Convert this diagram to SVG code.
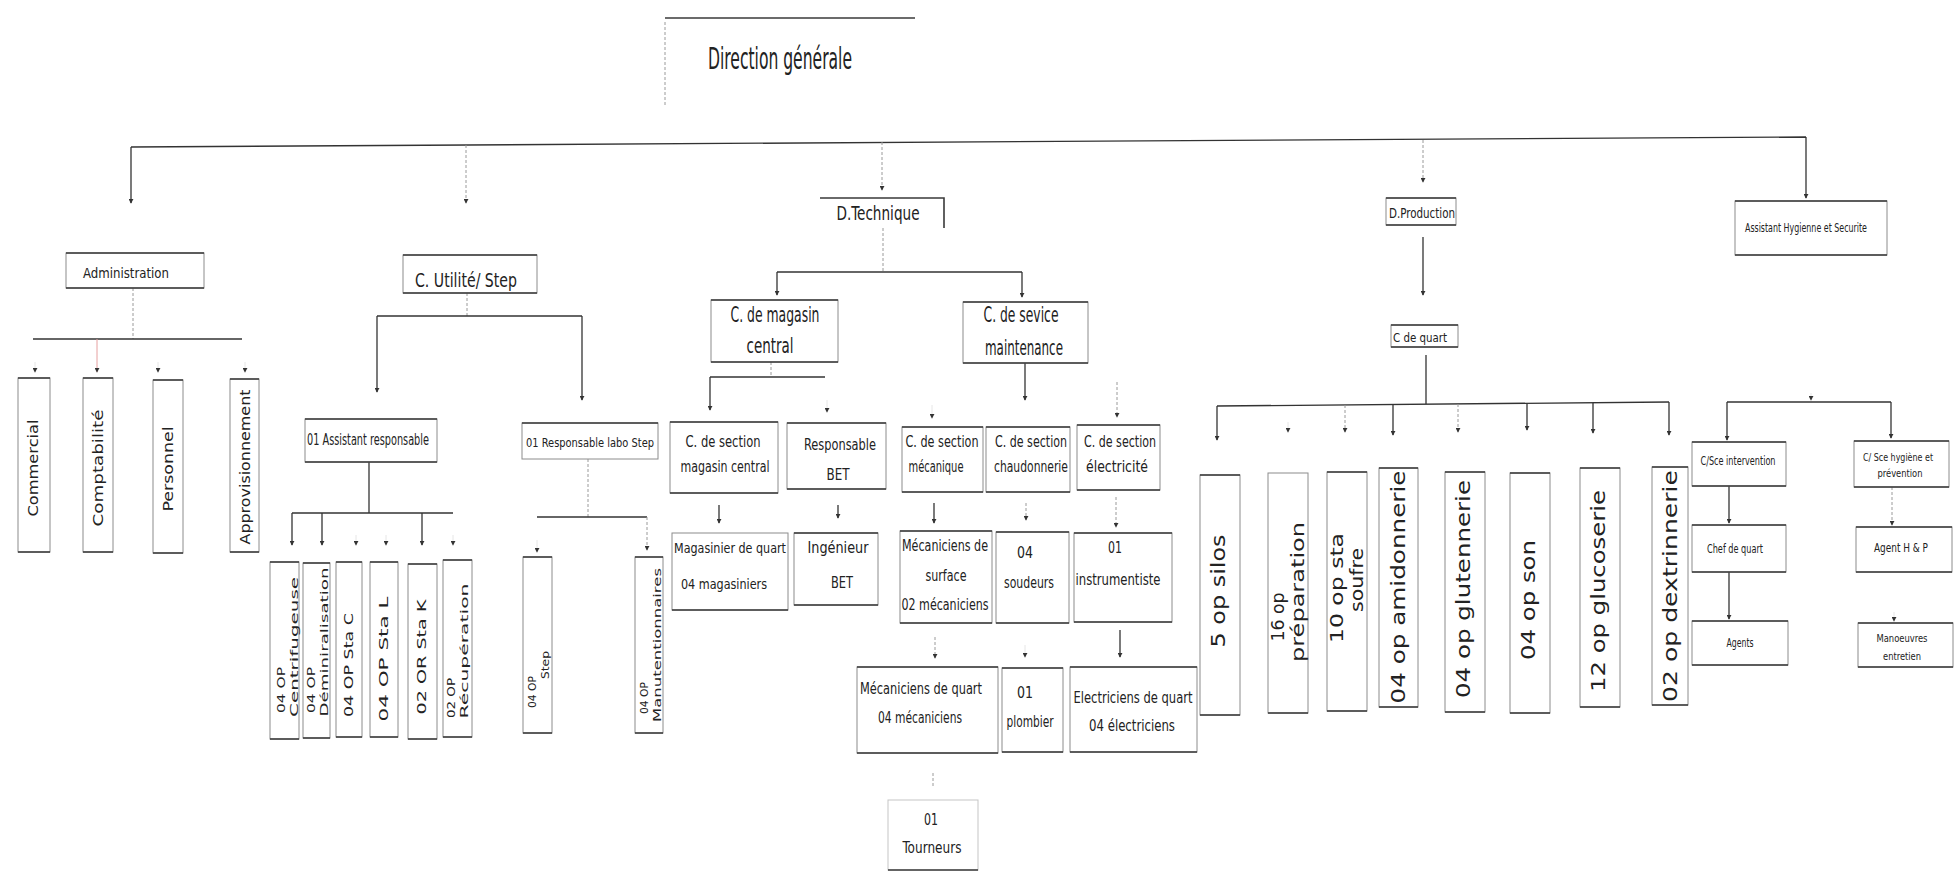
<svg xmlns="http://www.w3.org/2000/svg" width="1957" height="879" viewBox="0 0 1957 879">
<style>
.bx{fill:none;stroke:#8c8c8c;stroke-width:1}
.tb{fill:none;stroke:#3a3a3a;stroke-width:1.6}
.ln{fill:none;stroke:#333;stroke-width:1.3}
.fa{fill:none;stroke:#9a9a9a;stroke-width:1;stroke-dasharray:3 2}
.gh{fill:none;stroke:#e6e6e6;stroke-width:1}
.h{font-family:"DejaVu Sans Condensed","DejaVu Sans",sans-serif;fill:#222;text-anchor:middle}
.v{font-family:"DejaVu Sans",sans-serif;fill:#222;text-anchor:middle;dominant-baseline:central}
</style>
<defs>
<marker id="a" viewBox="0 0 6 6" refX="5" refY="3" markerWidth="5" markerHeight="5" markerUnits="userSpaceOnUse" orient="auto">
<path d="M0 0L6 3L0 6Z" fill="#333"/>
</marker>
</defs>
<rect width="1957" height="879" fill="#fff"/>

<g id="connectors">
<path class="tb" d="M665 18H915"/>
<path class="fa" d="M665 22V105"/>
<path class="ln" d="M131 147L1806 137"/>
<path class="ln" d="M131 147V203" marker-end="url(#a)"/>
<path class="fa" d="M466 145V203" marker-end="url(#a)"/>
<path class="fa" d="M882 142V190" marker-end="url(#a)"/>
<path class="fa" d="M1423 140V182" marker-end="url(#a)"/>
<path class="ln" d="M1806 137V198" marker-end="url(#a)"/>
<path class="fa" d="M133 288V339"/>
<path class="ln" d="M33 339H242"/>
<path d="M97 339V372" stroke="#e6a0a0" stroke-width="1" fill="none" marker-end="url(#a)"/>
<path class="gh" d="M35 362V372" marker-end="url(#a)"/>
<path class="gh" d="M158 362V372" marker-end="url(#a)"/>
<path class="gh" d="M245 362V372" marker-end="url(#a)"/>
<path class="fa" d="M467 293V316"/>
<path class="ln" d="M377 316H582"/>
<path class="ln" d="M377 316V392" marker-end="url(#a)"/>
<path class="ln" d="M582 316V400" marker-end="url(#a)"/>
<path class="ln" d="M369 462V513"/>
<path class="ln" d="M292 513H453"/>
<path class="ln" d="M292 513V545" marker-end="url(#a)"/>
<path class="ln" d="M322 513V545" marker-end="url(#a)"/>
<path class="gh" d="M356 535V545" marker-end="url(#a)"/>
<path class="gh" d="M386 535V545" marker-end="url(#a)"/>
<path class="ln" d="M422 513V545" marker-end="url(#a)"/>
<path class="gh" d="M453 535V545" marker-end="url(#a)"/>
<path class="fa" d="M588 459V517"/>
<path class="ln" d="M537 517H647"/>
<path class="gh" d="M537 540V552" marker-end="url(#a)"/>
<path class="fa" d="M647 517V550" marker-end="url(#a)"/>
<path class="fa" d="M883 228V272"/>
<path class="ln" d="M777 272H1022"/>
<path class="ln" d="M777 272V295" marker-end="url(#a)"/>
<path class="ln" d="M1022 272V297" marker-end="url(#a)"/>
<path class="fa" d="M771 362V377"/>
<path class="ln" d="M710 377H825"/>
<path class="ln" d="M710 377V410" marker-end="url(#a)"/>
<path class="gh" d="M827 400V412" marker-end="url(#a)"/>
<path class="ln" d="M1025 363V400" marker-end="url(#a)"/>
<path class="gh" d="M932 405V418" marker-end="url(#a)"/>
<path class="fa" d="M1117 382V417" marker-end="url(#a)"/>
<path class="ln" d="M719 505V523" marker-end="url(#a)"/>
<path class="ln" d="M838 505V518" marker-end="url(#a)"/>
<path class="ln" d="M934 503V523" marker-end="url(#a)"/>
<path class="fa" d="M1026 503V520" marker-end="url(#a)"/>
<path class="fa" d="M1116 497V527" marker-end="url(#a)"/>
<path class="fa" d="M935 637V658" marker-end="url(#a)"/>
<path class="gh" d="M1025 645V657" marker-end="url(#a)"/>
<path class="ln" d="M1120 630V657" marker-end="url(#a)"/>
<path class="fa" d="M933 773V787"/>
<path class="ln" d="M1423 237V295" marker-end="url(#a)"/>
<path class="ln" d="M1426 355V404"/>
<path class="ln" d="M1217 406L1669 402"/>
<path class="ln" d="M1217 406V440" marker-end="url(#a)"/>
<path class="gh" d="M1288 422V432" marker-end="url(#a)"/>
<path class="fa" d="M1345 405V432" marker-end="url(#a)"/>
<path class="ln" d="M1393 405V435" marker-end="url(#a)"/>
<path class="fa" d="M1458 404V432" marker-end="url(#a)"/>
<path class="ln" d="M1527 404V430" marker-end="url(#a)"/>
<path class="ln" d="M1593 403V433" marker-end="url(#a)"/>
<path class="ln" d="M1669 402V435" marker-end="url(#a)"/>
<path class="gh" d="M1811 393V400" marker-end="url(#a)"/>
<path class="ln" d="M1727 402H1891"/>
<path class="ln" d="M1727 402V440" marker-end="url(#a)"/>
<path class="ln" d="M1891 402V438" marker-end="url(#a)"/>
<path class="ln" d="M1729 486V523" marker-end="url(#a)"/>
<path class="ln" d="M1729 572V619" marker-end="url(#a)"/>
<path class="fa" d="M1892 487V525" marker-end="url(#a)"/>
<path class="gh" d="M1894 612V621" marker-end="url(#a)"/>
</g>

<g id="n-direction"><text class="h" x="780" y="69" font-size="31" textLength="144" lengthAdjust="spacingAndGlyphs">Direction générale</text></g>

<g id="n-administration"><rect class="bx" x="66" y="253" width="138" height="35"/><path class="tb" d="M66 253H204M66 288H204"/><text class="h" x="126" y="278" font-size="14" textLength="86" lengthAdjust="spacingAndGlyphs">Administration</text></g>
<g id="n-utilite"><rect class="bx" x="403" y="255" width="134" height="38"/><path class="tb" d="M403 255H537M403 293H537"/><text class="h" x="466" y="287" font-size="20" textLength="102" lengthAdjust="spacingAndGlyphs">C. Utilité/ Step</text></g>
<g id="n-dtechnique"><path class="tb" d="M820 198H944V228"/><text class="h" x="878" y="220" font-size="20" textLength="83" lengthAdjust="spacingAndGlyphs">D.Technique</text></g>
<g id="n-dproduction"><rect class="bx" x="1386" y="198" width="70" height="27"/><path class="tb" d="M1386 198H1456M1386 225H1456"/><text class="h" x="1422" y="218" font-size="14" textLength="66" lengthAdjust="spacingAndGlyphs">D.Production</text></g>
<g id="n-assistant-hse"><rect class="bx" x="1735" y="201" width="152" height="54"/><path class="tb" d="M1735 201H1887M1735 255H1887"/><text class="h" x="1806" y="232" font-size="12" textLength="122" lengthAdjust="spacingAndGlyphs">Assistant Hygienne et Securite</text></g>

<g id="n-commercial"><rect class="bx" x="18" y="378" width="32" height="174"/><path class="tb" d="M18 378H50M18 552H50"/><text class="v" transform="translate(33 468) rotate(-90)" font-size="14" textLength="97" lengthAdjust="spacingAndGlyphs">Commercial</text></g>
<g id="n-comptabilite"><rect class="bx" x="83" y="378" width="30" height="174"/><path class="tb" d="M83 378H113M83 552H113"/><text class="v" transform="translate(98 468) rotate(-90)" font-size="14" textLength="117" lengthAdjust="spacingAndGlyphs">Comptabilité</text></g>
<g id="n-personnel"><rect class="bx" x="153" y="380" width="30" height="173"/><path class="tb" d="M153 380H183M153 553H183"/><text class="v" transform="translate(168 469) rotate(-90)" font-size="14" textLength="85" lengthAdjust="spacingAndGlyphs">Personnel</text></g>
<g id="n-approvisionnement"><rect class="bx" x="230" y="379" width="29" height="173"/><path class="tb" d="M230 379H259M230 552H259"/><text class="v" transform="translate(245 467) rotate(-90)" font-size="14" textLength="155" lengthAdjust="spacingAndGlyphs">Approvisionnement</text></g>

<g id="n-assistant-resp"><rect class="bx" x="305" y="419" width="132" height="43"/><path class="tb" d="M305 419H437M305 462H437"/><text class="h" x="368" y="445" font-size="15" textLength="122" lengthAdjust="spacingAndGlyphs">01 Assistant responsable</text></g>
<g id="n-resp-labo"><rect class="bx" x="522" y="423" width="136" height="36"/><path class="tb" d="M522 423H658"/><text class="h" x="590" y="447" font-size="13" textLength="128" lengthAdjust="spacingAndGlyphs">01 Responsable labo Step</text></g>

<g id="n-centrifugeuse"><rect class="bx" x="270" y="562" width="29" height="177"/><path class="tb" d="M270 562H299M270 739H299"/><text class="v" transform="translate(281 690) rotate(-90)" font-size="10.5" textLength="46" lengthAdjust="spacingAndGlyphs">04 OP</text><text class="v" transform="translate(294 647) rotate(-90)" font-size="10.5" textLength="140" lengthAdjust="spacingAndGlyphs">Centrifugeuse</text></g>
<g id="n-demineralisation"><rect class="bx" x="303" y="563" width="27" height="175"/><path class="tb" d="M303 563H330M303 738H330"/><text class="v" transform="translate(311 690) rotate(-90)" font-size="10.5" textLength="46" lengthAdjust="spacingAndGlyphs">04 OP</text><text class="v" transform="translate(324 642) rotate(-90)" font-size="10.5" textLength="149" lengthAdjust="spacingAndGlyphs">Déminiralisation</text></g>
<g id="n-stac"><rect class="bx" x="336" y="562" width="26" height="175"/><path class="tb" d="M336 562H362M336 737H362"/><text class="v" transform="translate(349 665) rotate(-90)" font-size="12" textLength="104" lengthAdjust="spacingAndGlyphs">04 OP Sta C</text></g>
<g id="n-stal"><rect class="bx" x="370" y="562" width="28" height="175"/><path class="tb" d="M370 562H398M370 737H398"/><text class="v" transform="translate(384 659) rotate(-90)" font-size="12" textLength="125" lengthAdjust="spacingAndGlyphs">04 OP Sta L</text></g>
<g id="n-stak"><rect class="bx" x="408" y="564" width="29" height="175"/><path class="tb" d="M408 564H437M408 739H437"/><text class="v" transform="translate(422 657) rotate(-90)" font-size="12" textLength="115" lengthAdjust="spacingAndGlyphs">02 OR Sta K</text></g>
<g id="n-recuperation"><rect class="bx" x="443" y="560" width="29" height="177"/><path class="tb" d="M443 560H472M443 737H472"/><text class="v" transform="translate(451 698) rotate(-90)" font-size="10.5" textLength="40" lengthAdjust="spacingAndGlyphs">02 OP</text><text class="v" transform="translate(464 651) rotate(-90)" font-size="10.5" textLength="135" lengthAdjust="spacingAndGlyphs">Récupération</text></g>
<g id="n-opstep"><rect class="bx" x="523" y="557" width="29" height="176"/><path class="tb" d="M523 557H552M523 733H552"/><text class="v" transform="translate(532 692) rotate(-90)" font-size="10.5" textLength="32" lengthAdjust="spacingAndGlyphs">04 OP</text><text class="v" transform="translate(545 665) rotate(-90)" font-size="10.5" textLength="28" lengthAdjust="spacingAndGlyphs">Step</text></g>
<g id="n-manutentionnaires"><rect class="bx" x="635" y="557" width="28" height="176"/><path class="tb" d="M635 557H663M635 733H663"/><text class="v" transform="translate(644 698) rotate(-90)" font-size="10.5" textLength="32" lengthAdjust="spacingAndGlyphs">04 OP</text><text class="v" transform="translate(657 645) rotate(-90)" font-size="10.5" textLength="154" lengthAdjust="spacingAndGlyphs">Manutentionnaires</text></g>

<g id="n-magasin-central"><rect class="bx" x="711" y="300" width="127" height="62"/><path class="tb" d="M711 300H838M711 362H838"/><text class="h" x="775" y="322" font-size="21" textLength="89" lengthAdjust="spacingAndGlyphs">C. de magasin</text><text class="h" x="770" y="353" font-size="21" textLength="47" lengthAdjust="spacingAndGlyphs">central</text></g>
<g id="n-maintenance"><rect class="bx" x="963" y="302" width="125" height="61"/><path class="tb" d="M963 302H1088M963 363H1088"/><text class="h" x="1021" y="322" font-size="21" textLength="75" lengthAdjust="spacingAndGlyphs">C. de sevice</text><text class="h" x="1024" y="355" font-size="21" textLength="78" lengthAdjust="spacingAndGlyphs">maintenance</text></g>

<g id="n-sec-magasin"><rect class="bx" x="670" y="422" width="108" height="71"/><path class="tb" d="M670 422H778M670 493H778"/><text class="h" x="723" y="447" font-size="15" textLength="75" lengthAdjust="spacingAndGlyphs">C. de section</text><text class="h" x="725" y="472" font-size="15" textLength="89" lengthAdjust="spacingAndGlyphs">magasin central</text></g>
<g id="n-resp-bet"><rect class="bx" x="787" y="423" width="99" height="66"/><path class="tb" d="M787 423H886M787 489H886"/><text class="h" x="840" y="450" font-size="15" textLength="72" lengthAdjust="spacingAndGlyphs">Responsable</text><text class="h" x="838" y="480" font-size="15" textLength="23" lengthAdjust="spacingAndGlyphs">BET</text></g>
<g id="n-sec-mecanique"><rect class="bx" x="902" y="427" width="81" height="65"/><path class="tb" d="M902 427H983M902 492H983"/><text class="h" x="942" y="447" font-size="15" textLength="73" lengthAdjust="spacingAndGlyphs">C. de section</text><text class="h" x="936" y="472" font-size="15" textLength="55" lengthAdjust="spacingAndGlyphs">mécanique</text></g>
<g id="n-sec-chaudonnerie"><rect class="bx" x="986" y="427" width="84" height="65"/><path class="tb" d="M986 427H1070M986 492H1070"/><text class="h" x="1031" y="447" font-size="15" textLength="72" lengthAdjust="spacingAndGlyphs">C. de section</text><text class="h" x="1031" y="472" font-size="15" textLength="74" lengthAdjust="spacingAndGlyphs">chaudonnerie</text></g>
<g id="n-sec-electricite"><rect class="bx" x="1077" y="425" width="83" height="65"/><path class="tb" d="M1077 425H1160M1077 490H1160"/><text class="h" x="1120" y="447" font-size="15" textLength="72" lengthAdjust="spacingAndGlyphs">C. de section</text><text class="h" x="1117" y="472" font-size="15" textLength="62" lengthAdjust="spacingAndGlyphs">électricité</text></g>

<g id="n-magasinier"><rect class="bx" x="672" y="533" width="116" height="77"/><path class="tb" d="M672 610H788"/><text class="h" x="730" y="553" font-size="14" textLength="112" lengthAdjust="spacingAndGlyphs">Magasinier de quart</text><text class="h" x="724" y="589" font-size="14" textLength="86" lengthAdjust="spacingAndGlyphs">04 magasiniers</text></g>
<g id="n-ingenieur"><rect class="bx" x="794" y="533" width="84" height="72"/><path class="tb" d="M794 533H878M794 605H878"/><text class="h" x="838" y="553" font-size="15" textLength="61" lengthAdjust="spacingAndGlyphs">Ingénieur</text><text class="h" x="842" y="588" font-size="15" textLength="22" lengthAdjust="spacingAndGlyphs">BET</text></g>
<g id="n-mec-surface"><rect class="bx" x="900" y="531" width="92" height="92"/><path class="tb" d="M900 531H992M900 623H992"/><text class="h" x="945" y="551" font-size="15" textLength="86" lengthAdjust="spacingAndGlyphs">Mécaniciens de</text><text class="h" x="946" y="581" font-size="15" textLength="41" lengthAdjust="spacingAndGlyphs">surface</text><text class="h" x="945" y="610" font-size="15" textLength="87" lengthAdjust="spacingAndGlyphs">02 mécaniciens</text></g>
<g id="n-soudeurs"><rect class="bx" x="996" y="532" width="73" height="91"/><path class="tb" d="M996 532H1069M996 623H1069"/><text class="h" x="1025" y="558" font-size="15" textLength="16" lengthAdjust="spacingAndGlyphs">04</text><text class="h" x="1029" y="588" font-size="15" textLength="50" lengthAdjust="spacingAndGlyphs">soudeurs</text></g>
<g id="n-instrumentiste"><rect class="bx" x="1074" y="533" width="98" height="89"/><path class="tb" d="M1074 533H1172M1074 622H1172"/><text class="h" x="1115" y="553" font-size="15" textLength="14" lengthAdjust="spacingAndGlyphs">01</text><text class="h" x="1118" y="585" font-size="15" textLength="85" lengthAdjust="spacingAndGlyphs">instrumentiste</text></g>

<g id="n-mec-quart"><rect class="bx" x="857" y="667" width="141" height="86"/><path class="tb" d="M857 667H998M857 753H998"/><text class="h" x="921" y="694" font-size="15" textLength="122" lengthAdjust="spacingAndGlyphs">Mécaniciens de quart</text><text class="h" x="920" y="723" font-size="15" textLength="84" lengthAdjust="spacingAndGlyphs">04 mécaniciens</text></g>
<g id="n-plombier"><rect class="bx" x="1002" y="668" width="61" height="84"/><path class="tb" d="M1002 668H1063M1002 752H1063"/><text class="h" x="1025" y="698" font-size="15" textLength="16" lengthAdjust="spacingAndGlyphs">01</text><text class="h" x="1030" y="727" font-size="15" textLength="47" lengthAdjust="spacingAndGlyphs">plombier</text></g>
<g id="n-elec-quart"><rect class="bx" x="1070" y="667" width="127" height="85"/><path class="tb" d="M1070 667H1197M1070 752H1197"/><text class="h" x="1133" y="703" font-size="15" textLength="119" lengthAdjust="spacingAndGlyphs">Electriciens de quart</text><text class="h" x="1132" y="731" font-size="15" textLength="86" lengthAdjust="spacingAndGlyphs">04 électriciens</text></g>
<g id="n-tourneurs"><rect class="bx" x="888" y="800" width="90" height="70" stroke-opacity="0.5"/><path class="tb" d="M888 870H978"/><text class="h" x="931" y="825" font-size="15" textLength="14" lengthAdjust="spacingAndGlyphs">01</text><text class="h" x="932" y="853" font-size="15" textLength="59" lengthAdjust="spacingAndGlyphs">Tourneurs</text></g>

<g id="n-cquart"><rect class="bx" x="1391" y="325" width="67" height="22"/><path class="tb" d="M1391 325H1458M1391 347H1458"/><text class="h" x="1420" y="342" font-size="12" textLength="54" lengthAdjust="spacingAndGlyphs">C de quart</text></g>

<g id="n-silos"><rect class="bx" x="1200" y="475" width="40" height="240"/><path class="tb" d="M1200 475H1240M1200 715H1240"/><text class="v" transform="translate(1218 591) rotate(-90)" font-size="20" textLength="113" lengthAdjust="spacingAndGlyphs">5 op silos</text></g>
<g id="n-preparation"><rect class="bx" x="1268" y="473" width="40" height="240"/><path class="tb" d="M1268 713H1308"/><text class="v" transform="translate(1278 617) rotate(-90)" font-size="17" textLength="49" lengthAdjust="spacingAndGlyphs">16 op</text><text class="v" transform="translate(1298 592) rotate(-90)" font-size="17" textLength="140" lengthAdjust="spacingAndGlyphs">préparation</text></g>
<g id="n-soufre"><rect class="bx" x="1327" y="472" width="40" height="239"/><path class="tb" d="M1327 472H1367M1327 711H1367"/><text class="v" transform="translate(1337 588) rotate(-90)" font-size="17" textLength="110" lengthAdjust="spacingAndGlyphs">10 op sta</text><text class="v" transform="translate(1357 580) rotate(-90)" font-size="17" textLength="64" lengthAdjust="spacingAndGlyphs">soufre</text></g>
<g id="n-amidonnerie"><rect class="bx" x="1379" y="468" width="39" height="239"/><path class="tb" d="M1379 468H1418M1379 707H1418"/><text class="v" transform="translate(1398 587) rotate(-90)" font-size="20" textLength="233" lengthAdjust="spacingAndGlyphs">04 op amidonnerie</text></g>
<g id="n-glutennerie"><rect class="bx" x="1445" y="472" width="40" height="240"/><path class="tb" d="M1445 472H1485M1445 712H1485"/><text class="v" transform="translate(1463 589) rotate(-90)" font-size="20" textLength="218" lengthAdjust="spacingAndGlyphs">04 op glutennerie</text></g>
<g id="n-son"><rect class="bx" x="1510" y="473" width="40" height="240"/><path class="tb" d="M1510 473H1550M1510 713H1550"/><text class="v" transform="translate(1528 600) rotate(-90)" font-size="20" textLength="120" lengthAdjust="spacingAndGlyphs">04 op son</text></g>
<g id="n-glucoserie"><rect class="bx" x="1580" y="468" width="40" height="239"/><path class="tb" d="M1580 468H1620M1580 707H1620"/><text class="v" transform="translate(1598 591) rotate(-90)" font-size="20" textLength="202" lengthAdjust="spacingAndGlyphs">12 op glucoserie</text></g>
<g id="n-dextrinnerie"><rect class="bx" x="1652" y="467" width="36" height="238"/><path class="tb" d="M1652 467H1688M1652 705H1688"/><text class="v" transform="translate(1670 586) rotate(-90)" font-size="20" textLength="232" lengthAdjust="spacingAndGlyphs">02 op dextrinnerie</text></g>

<g id="n-sce-intervention"><rect class="bx" x="1692" y="442" width="94" height="44"/><path class="tb" d="M1692 442H1786M1692 486H1786"/><text class="h" x="1738" y="465" font-size="12" textLength="75" lengthAdjust="spacingAndGlyphs">C/Sce intervention</text></g>
<g id="n-sce-hygiene"><rect class="bx" x="1854" y="441" width="95" height="46"/><path class="tb" d="M1854 441H1949M1854 487H1949"/><text class="h" x="1898" y="461" font-size="11" textLength="70" lengthAdjust="spacingAndGlyphs">C/ Sce hygiène et</text><text class="h" x="1900" y="477" font-size="11" textLength="45" lengthAdjust="spacingAndGlyphs">prévention</text></g>
<g id="n-chef-quart"><rect class="bx" x="1692" y="525" width="94" height="47"/><path class="tb" d="M1692 525H1786M1692 572H1786"/><text class="h" x="1735" y="553" font-size="12" textLength="56" lengthAdjust="spacingAndGlyphs">Chef de quart</text></g>
<g id="n-agents"><rect class="bx" x="1692" y="621" width="96" height="44"/><path class="tb" d="M1692 621H1788M1692 665H1788"/><text class="h" x="1740" y="647" font-size="12" textLength="27" lengthAdjust="spacingAndGlyphs">Agents</text></g>
<g id="n-agent-hp"><rect class="bx" x="1856" y="527" width="96" height="45"/><path class="tb" d="M1856 527H1952M1856 572H1952"/><text class="h" x="1901" y="552" font-size="12" textLength="54" lengthAdjust="spacingAndGlyphs">Agent H &amp; P</text></g>
<g id="n-manoeuvres"><rect class="bx" x="1858" y="623" width="95" height="44"/><path class="tb" d="M1858 623H1953M1858 667H1953"/><text class="h" x="1902" y="642" font-size="11" textLength="51" lengthAdjust="spacingAndGlyphs">Manoeuvres</text><text class="h" x="1902" y="660" font-size="11" textLength="38" lengthAdjust="spacingAndGlyphs">entretien</text></g>
</svg>
